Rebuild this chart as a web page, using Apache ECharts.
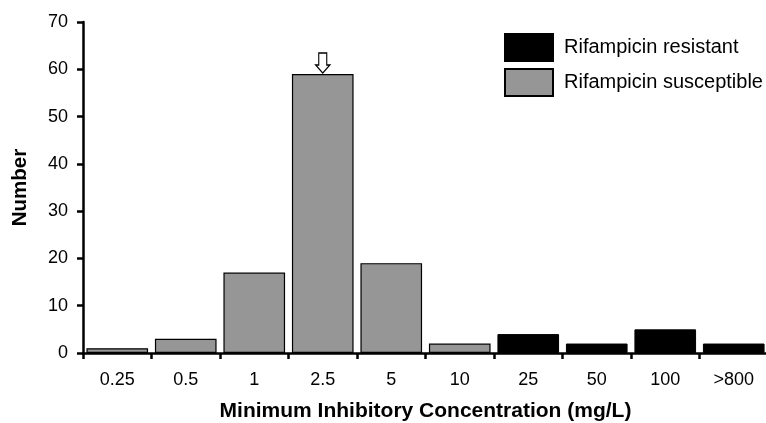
<!DOCTYPE html>
<html>
<head>
<meta charset="utf-8">
<script src="https://cdn.jsdelivr.net/npm/echarts@6/dist/echarts.min.js"></script>
<style>html,body{margin:0;padding:0;background:#fff}#c{width:766px;height:423px}</style>
</head>
<body>
<div id="c"></div>
<script>
const categories = ['0.25', '0.5', '1', '2.5', '5', '10', '25', '50', '100', '>800'];
const susceptible = [1, 3, 17, 59, 19, 2, null, null, null, null];
const resistant = [null, null, null, null, null, null, 4, 2, 5, 2];
const yTicks = [0, 10, 20, 30, 40, 50, 60, 70];
const arrowAt = '2.5';

const chart = echarts.init(document.getElementById('c'), null, {renderer: 'canvas'});
const font = 'Liberation Sans, Arial, sans-serif';
chart.setOption({
  animation: false,
  textStyle: {fontFamily: font},
  grid: {left: 83, right: -2, top: 22, bottom: 70, containLabel: false, outerBoundsMode: 'none'},
  legend: {
    left: 499, top: 28, orient: 'vertical',
    itemWidth: 48, itemHeight: 27, itemGap: 6,
    icon: 'rect',
    textStyle: {fontFamily: font, fontSize: 20, color: '#000', padding: [0, 0, 0, 6]},
    data: ['Rifampicin resistant', 'Rifampicin susceptible']
  },
  xAxis: {
    type: 'category', data: categories,
    name: 'Minimum Inhibitory Concentration (mg/L)',
    nameLocation: 'middle', nameGap: 48,
    nameTextStyle: {fontFamily: font, fontSize: 21, fontWeight: 'bold', color: '#000'},
    axisLine: {lineStyle: {color: '#000', width: 2.5}},
    axisTick: {show: true, interval: 0, length: 6, lineStyle: {color: '#000', width: 2.5}},
    axisLabel: {interval: 0, fontFamily: font, fontSize: 18, color: '#000', margin: 18}
  },
  yAxis: {
    type: 'value', min: yTicks[0], max: yTicks[yTicks.length - 1], interval: 10,
    name: 'Number', nameLocation: 'middle', nameGap: 52, nameRotate: 90,
    nameTextStyle: {fontFamily: font, fontSize: 20.5, fontWeight: 'bold', color: '#000'},
    axisLine: {show: true, lineStyle: {color: '#000', width: 2.5}},
    axisTick: {show: true, length: 6, lineStyle: {color: '#000', width: 2.5}},
    axisLabel: {fontFamily: font, fontSize: 18, color: '#000', margin: 15},
    splitLine: {show: false}
  },
  series: [
    {
      name: 'Rifampicin resistant', type: 'bar', data: resistant,
      barWidth: '90%', barGap: '-100%',
      itemStyle: {color: '#000', borderColor: '#000', borderWidth: 1}
    },
    {
      name: 'Rifampicin susceptible', type: 'bar', data: susceptible,
      barWidth: '90%', barGap: '-100%',
      itemStyle: {color: '#969696', borderColor: '#000', borderWidth: 1.2},
      markPoint: {
        symbol: 'path://M3,0 L11,0 L11,12 L14,12 L7,20 L0,12 L3,12 Z',
        symbolSize: [14, 20], symbolOffset: [0, '-55%'],
        itemStyle: {color: '#fff', borderColor: '#000', borderWidth: 1.3},
        label: {show: false},
        data: [{coord: [arrowAt, susceptible[categories.indexOf(arrowAt)]]}]
      }
    }
  ]
});
</script>
</body>
</html>
